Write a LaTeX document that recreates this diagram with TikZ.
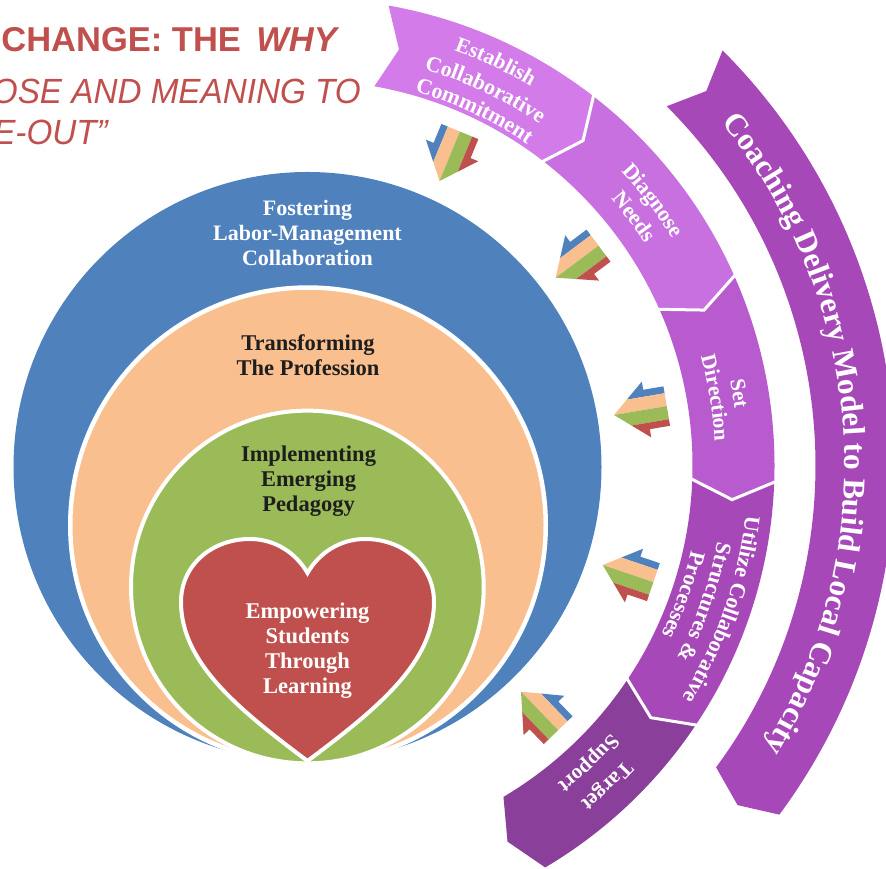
\documentclass[tikz,border=0pt]{standalone}
\usepackage{fontspec}
\setmainfont{Liberation Serif}
\newfontfamily\titlefont{Liberation Sans}
\usetikzlibrary{decorations.text}
\definecolor{cblue}{HTML}{4F81BD}
\definecolor{cpeach}{HTML}{FABF8F}
\definecolor{cgreen}{HTML}{9BBB59}
\definecolor{cred}{HTML}{C0504D}
\definecolor{seqa}{HTML}{D27BE9}
\definecolor{seqb}{HTML}{C970E0}
\definecolor{seqc}{HTML}{B85BCF}
\definecolor{seqd}{HTML}{A748B9}
\definecolor{seqe}{HTML}{8A3F9A}
\definecolor{seqo}{HTML}{A748B9}
\definecolor{darktext}{HTML}{1E1E1E}
\newcommand{\bandseg}[3]{% colour, start angle, end angle
  \fill[#1] (#2:467pt) arc[start angle=#2,end angle=#3,radius=467pt]
    -- ({#3-2.6}:426pt) -- (#3:385pt) arc[start angle=#3,end angle=#2,radius=385pt]
    -- ({#2-2.4}:426pt) -- cycle;}
\newcommand{\chev}[1]{\draw[white,line width=3pt,line join=miter] (#1:468pt) -- ({#1-2.6}:426pt) -- (#1:384pt);}
\newcommand{\arctext}[5]{% radius, centre angle, half span, font size, text
  \path[decorate,decoration={text along path,text align=center,
     text={|\fontsize{#4}{#4}\selectfont\bfseries\color{white}|#5}}]
   ({#2+#3}:#1pt) arc[start angle={#2+#3},end angle={#2-#3},radius=#1pt];}
\newcommand{\stripearrow}[3]{% tip x, tip y, angle
  \begin{scope}[shift={(#1,#2)},rotate=#3]
    \clip (0,0) -- (33,28.3) -- (33,20) -- (53.5,20) -- (53.5,-20) -- (33,-20) -- (33,-28.3) -- cycle;
    \fill[cblue] (-1,13) rectangle (55,30);
    \fill[cpeach] (-1,0) rectangle (55,13);
    \fill[cgreen] (-1,-13.3) rectangle (55,0);
    \fill[cred] (-1,-30) rectangle (55,-13.3);
  \end{scope}}
\tikzset{
  ringtext/.style={align=center,font=\fontsize{22.5}{25}\selectfont\bfseries,inner sep=0pt},
  titleline/.style={inner sep=0pt,text=cred}
}
\begin{document}
\begin{tikzpicture}[x=1pt,y=1pt]
\useasboundingbox (0,0) rectangle (886,869);
\clip (0,0) rectangle (886,869);
% circles
\fill[cblue] (307.5,402) ellipse[x radius=294pt,y radius=295pt];
\draw[draw=white,line width=4.5pt,fill=cpeach] (308,343.7) circle[radius=237.75pt];
\draw[draw=white,line width=4pt,fill=cgreen] (307.35,282) circle[radius=176.35pt];
\draw[draw=white,line width=4pt,line join=miter,fill=cred] (307.5,108)
  .. controls (241,158) and (181,205) .. (181,267)
  .. controls (181,304) and (212,330) .. (250,330)
  .. controls (275,330) and (296,316) .. (307.5,296)
  .. controls (319,316) and (340,330) .. (365,330)
  .. controls (403,330) and (434,304) .. (434,267)
  .. controls (434,205) and (374,158) .. (307.5,108) -- cycle;
% circle labels
\node[ringtext,text=white,font=\fontsize{22}{25}\selectfont\bfseries] (foster) at (307.5,636) {Fostering\\Labor-Management\\Collaboration};
\node[ringtext,text=darktext] (transform) at (308,514) {Transforming\\The Profession};
\node[ringtext,text=darktext] (implement) at (308.5,388) {Implementing\\Emerging\\Pedagogy};
\node[ringtext,text=white] (empower) at (307.5,218) {Empowering\\Students\\Through\\Learning};
% bands
\begin{scope}[shift={(307.5,403.5)}]
  \fill[seqo] (45:587pt) arc[start angle=45,end angle=-36.5,radius=587pt]
     -- (-38.3:548pt) -- (-36.45:508pt) arc[start angle=-36.45,end angle=45,radius=508pt]
     -- (43.2:547pt) -- cycle;
  \bandseg{seqa}{80}{52.3}
  \bandseg{seqb}{52.3}{24}
  \bandseg{seqc}{24}{-2}
  \bandseg{seqd}{-2}{-33.7}
  \bandseg{seqe}{-33.7}{-59.4}
  \chev{52.3}\chev{24}\chev{-2}\chev{-33.7}
  \arctext{537}{4}{42}{31.4}{Coaching Delivery Model to Build Local Capacity}
  \arctext{440}{65}{14}{21.5}{Establish}
  \arctext{413}{64.7}{14}{22}{Collaborative}
  \arctext{389}{64.8}{14}{22}{Commitment}
  \arctext{430}{37.5}{12}{22}{Diagnose}
  \arctext{404}{37.3}{12}{22}{Needs}
  \arctext{431}{9.5}{12}{21.5}{Set}
  \arctext{408}{9.4}{12}{21.5}{Direction}
  \arctext{441}{-19.2}{15}{22}{Utilize Collaborative}
  \arctext{417}{-19}{14}{22}{Structures {\&}}
  \arctext{393}{-19}{14}{22}{Processes}
  \arctext{433}{-46.9}{11}{21}{Target}
  \arctext{405}{-46.7}{11}{21}{Support}
\end{scope}
% arrows
\stripearrow{439.5}{688}{67.6}
\stripearrow{555.7}{591.3}{36.8}
\stripearrow{614}{454}{9.6}
\stripearrow{602.7}{304}{-18.7}
\stripearrow{521}{177.3}{-46}
% title
\node[titleline,anchor=base east] (t1) at (337,817) {\titlefont\fontsize{34.5}{34.5}\selectfont\bfseries CHANGE: THE \,\itshape WHY};
\node[titleline,anchor=base east,xscale=.95] (t2) at (361,765) {\titlefont\fontsize{35}{35}\selectfont\itshape OSE AND MEANING TO};
\node[titleline,anchor=base east,xscale=.95] (t3) at (108,724) {\titlefont\fontsize{35}{35}\selectfont\itshape E-OUT”};
\end{tikzpicture}
\end{document}
